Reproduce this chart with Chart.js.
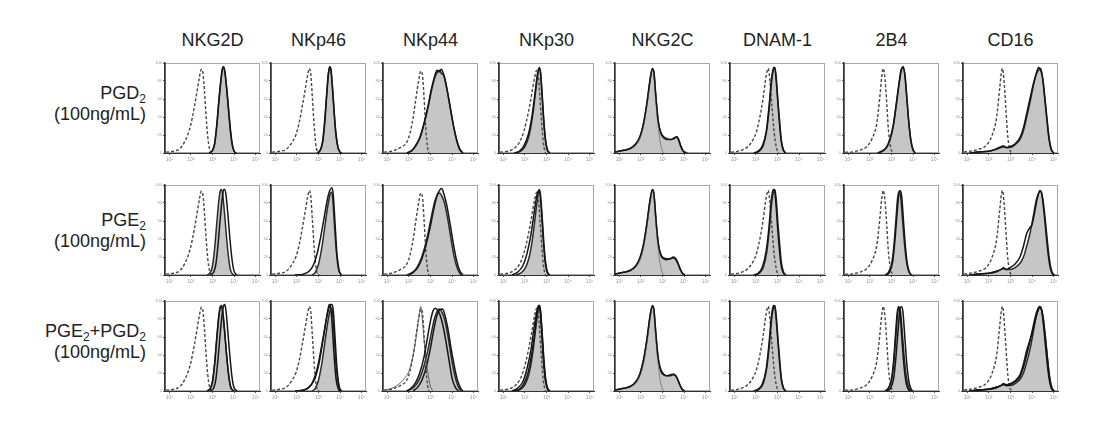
<!DOCTYPE html>
<html>
<head>
<meta charset="utf-8">
<script src="https://cdn.jsdelivr.net/npm/chart.js@4/dist/chart.umd.min.js"></script>
<style>
  html, body { margin: 0; padding: 0; background: #fff; }
  #fig { position: relative; width: 1107px; height: 435px; overflow: hidden;
         font-family: "Liberation Sans", Arial, sans-serif; color: #222; }
  .head { position: absolute; top: 31px; width: 130px; text-align: center;
          font-size: 18px; line-height: 18px; white-space: nowrap; }
  .rowlab { position: absolute; right: 961px; text-align: right; font-size: 18px;
            line-height: 21px; white-space: nowrap; }
  .rowlab sub { font-size: 12px; line-height: 0; vertical-align: -4px; }
  canvas { position: absolute; }
</style>
</head>
<body>
<div id="fig"></div>
<script>
// marker names (column headers) and treatment labels (rows)
var markers = ['NKG2D', 'NKp46', 'NKp44', 'NKp30', 'NKG2C', 'DNAM-1', '2B4', 'CD16'];
var treatments = ['PGD<sub>2</sub>', 'PGE<sub>2</sub>', 'PGE<sub>2</sub>+PGD<sub>2</sub>'];
var doseLabel = '(100ng/mL)';

// axis ticks: x is log10 of fluorescence, y is % of max
var xTickValues = [1, 2, 3, 4, 5];
var xTickLabels = ['10\u00b9', '10\u00b2', '10\u00b3', '10\u2074', '10\u2075'];
var yTickValues = [0, 20, 40, 60, 80, 100];

// isotype (dashed) per marker, same in every row
var isotypeCurves = [
  [[0.85,1],[1.2,2],[1.5,5],[1.7,12],[1.85,20],[2.0,32],[2.15,50],[2.28,68],[2.4,85],[2.48,93],[2.55,90],[2.63,68],[2.7,42],[2.78,18],[2.86,5],[2.95,0]],
  [[0.85,1],[1.2,2],[1.5,4],[1.75,11],[1.95,20],[2.1,33],[2.25,52],[2.38,70],[2.5,87],[2.58,94],[2.64,88],[2.72,60],[2.8,30],[2.88,9],[2.96,1],[3.05,0]],
  [[0.85,1],[1.2,2],[1.6,6],[1.9,12],[2.05,22],[2.2,40],[2.32,60],[2.45,80],[2.55,91],[2.62,88],[2.7,62],[2.78,28],[2.86,7],[2.93,0]],
  [[0.85,1],[1.2,2],[1.5,5],[1.75,12],[1.95,24],[2.15,44],[2.32,66],[2.45,84],[2.55,92],[2.62,86],[2.7,60],[2.78,32],[2.86,10],[2.95,0]],
  [[0.85,1],[1.2,3],[1.5,5],[1.75,9],[1.95,16],[2.12,30],[2.28,54],[2.42,80],[2.53,92],[2.6,88],[2.68,62],[2.78,34],[2.88,14],[2.97,4],[3.05,0]],
  [[0.85,1],[1.2,2],[1.57,6],[1.85,14],[2.04,25],[2.2,42],[2.34,62],[2.47,85],[2.57,94],[2.65,80],[2.75,50],[2.85,22],[2.95,6],[3.05,0]],
  [[0.85,1],[1.08,1],[1.5,3],[1.85,7],[2.1,16],[2.31,32],[2.45,60],[2.55,85],[2.62,94],[2.7,82],[2.78,55],[2.86,25],[2.96,6],[3.08,0]],
  [[0.85,1],[1.12,2],[1.5,4],[1.9,9],[2.15,20],[2.36,40],[2.5,72],[2.58,90],[2.63,94],[2.7,80],[2.78,52],[2.86,22],[2.95,5],[3.05,0]]
];

// row 1, PGD2: filled control and treated line
var pgd2Fill = [
  [[2.85,0],[3.0,3],[3.1,10],[3.2,30],[3.3,58],[3.4,82],[3.47,94],[3.52,96],[3.58,90],[3.66,72],[3.75,48],[3.84,24],[3.93,8],[4.03,1],[4.1,0]],
  [[2.95,0],[3.1,4],[3.2,13],[3.3,36],[3.38,64],[3.46,88],[3.52,96],[3.57,94],[3.64,76],[3.72,48],[3.8,24],[3.9,7],[4.0,1],[4.08,0]],
  [[1.9,0],[2.1,2],[2.3,7],[2.5,16],[2.7,32],[2.9,52],[3.05,70],[3.2,84],[3.32,90],[3.42,92],[3.52,88],[3.62,86],[3.75,72],[3.9,52],[4.05,32],[4.2,16],[4.35,5],[4.5,0]],
  [[1.6,0],[1.8,2],[2.0,7],[2.2,20],[2.35,40],[2.48,65],[2.58,85],[2.66,95],[2.72,90],[2.8,65],[2.88,35],[2.96,14],[3.05,3],[3.15,0]],
  [[0.8,1],[1.2,3],[1.5,5],[1.75,9],[1.95,17],[2.12,32],[2.28,55],[2.42,80],[2.53,93],[2.6,90],[2.7,60],[2.8,35],[2.92,22],[3.05,17],[3.2,15],[3.4,15],[3.55,16],[3.67,18],[3.75,15],[3.85,8],[3.95,3],[4.05,1],[4.15,0]],
  [[2.0,0],[2.2,3],[2.35,9],[2.5,25],[2.62,50],[2.73,80],[2.82,93],[2.88,95],[2.95,82],[3.02,58],[3.1,35],[3.18,14],[3.27,4],[3.38,0]],
  [[2.4,0],[2.6,2],[2.8,7],[2.95,16],[3.1,32],[3.24,56],[3.36,78],[3.46,92],[3.55,96],[3.63,85],[3.72,60],[3.8,35],[3.9,14],[4.0,4],[4.1,0]],
  [[1.1,0],[1.5,1],[2.0,2],[2.3,4],[2.55,7],[2.68,8],[2.8,6],[2.97,6],[3.2,9],[3.44,15],[3.6,25],[3.75,40],[3.9,56],[4.06,75],[4.2,88],[4.33,93],[4.4,94],[4.5,82],[4.6,60],[4.7,36],[4.8,15],[4.9,4],[5.0,0]]
];
var pgd2Line = [
  [[2.85,0],[3.0,3],[3.1,11],[3.2,32],[3.3,60],[3.4,84],[3.47,95],[3.52,95],[3.58,88],[3.66,70],[3.75,45],[3.84,22],[3.93,7],[4.03,1],[4.1,0]],
  [[2.93,0],[3.08,3],[3.19,13],[3.29,37],[3.38,66],[3.46,89],[3.52,95],[3.57,93],[3.64,74],[3.72,46],[3.8,22],[3.9,6],[4.0,1],[4.08,0]],
  [[1.9,0],[2.1,2],[2.3,8],[2.5,17],[2.7,33],[2.9,54],[3.05,72],[3.2,86],[3.3,92],[3.4,90],[3.5,93],[3.6,88],[3.75,73],[3.9,53],[4.05,32],[4.2,15],[4.35,4],[4.5,0]],
  [[1.5,0],[1.75,2],[1.95,8],[2.15,20],[2.32,40],[2.46,65],[2.57,86],[2.65,94],[2.71,92],[2.79,66],[2.87,36],[2.95,14],[3.04,3],[3.15,0]],
  [[0.8,1],[1.2,3],[1.5,5],[1.75,10],[1.95,18],[2.12,33],[2.28,56],[2.42,81],[2.53,94],[2.6,90],[2.7,61],[2.8,36],[2.92,23],[3.05,18],[3.2,16],[3.4,15],[3.55,17],[3.67,18],[3.75,14],[3.85,7],[3.95,2],[4.05,0]],
  [[1.9,0],[2.1,2],[2.3,8],[2.48,24],[2.6,50],[2.72,82],[2.82,95],[2.87,95],[2.94,80],[3.02,55],[3.1,30],[3.18,12],[3.27,3],[3.38,0]],
  [[2.35,0],[2.55,2],[2.75,6],[2.92,15],[3.08,31],[3.22,55],[3.35,78],[3.45,93],[3.54,95],[3.62,86],[3.71,60],[3.8,34],[3.9,13],[4.0,3],[4.1,0]],
  [[1.1,0],[1.5,1],[2.0,2],[2.3,4],[2.55,6],[2.68,7],[2.8,6],[2.97,7],[3.2,10],[3.44,17],[3.6,28],[3.75,44],[3.9,60],[4.06,77],[4.2,89],[4.3,95],[4.38,93],[4.48,84],[4.58,62],[4.68,38],[4.78,16],[4.88,4],[4.98,0]]
];

// row 2, PGE2
var pge2Fill = [
  [[2.75,0],[2.9,3],[3.0,10],[3.1,30],[3.2,58],[3.3,84],[3.37,94],[3.42,95],[3.48,88],[3.56,68],[3.65,42],[3.74,20],[3.83,6],[3.93,1],[4.0,0]],
  [[2.7,0],[2.85,3],[3.0,12],[3.15,30],[3.3,55],[3.42,75],[3.52,88],[3.6,92],[3.66,85],[3.74,55],[3.83,25],[3.93,6],[4.05,0]],
  [[1.9,0],[2.1,2],[2.3,6],[2.5,14],[2.7,28],[2.9,48],[3.05,66],[3.2,82],[3.32,89],[3.42,91],[3.52,88],[3.65,80],[3.8,62],[3.95,40],[4.1,20],[4.25,7],[4.4,0]],
  [[1.6,0],[1.8,2],[2.0,7],[2.2,20],[2.35,40],[2.48,65],[2.58,85],[2.66,95],[2.72,90],[2.8,65],[2.88,35],[2.96,14],[3.05,3],[3.15,0]],
  [[0.8,1],[1.2,3],[1.5,5],[1.75,9],[1.95,18],[2.12,33],[2.28,57],[2.42,82],[2.53,94],[2.6,90],[2.7,60],[2.8,35],[2.92,22],[3.05,18],[3.2,17],[3.35,18],[3.5,19],[3.62,17],[3.72,12],[3.82,6],[3.92,2],[4.02,0]],
  [[2.0,0],[2.2,3],[2.35,9],[2.5,25],[2.62,50],[2.73,80],[2.82,93],[2.88,95],[2.95,82],[3.02,58],[3.1,35],[3.18,14],[3.27,4],[3.38,0]],
  [[2.7,0],[2.85,3],[3.0,12],[3.1,30],[3.2,60],[3.28,85],[3.35,93],[3.42,88],[3.5,65],[3.6,35],[3.7,14],[3.8,4],[3.92,0]],
  [[1.1,0],[1.5,1],[2.0,2],[2.3,3],[2.55,6],[2.68,7],[2.8,6],[2.97,6],[3.2,8],[3.44,13],[3.6,20],[3.75,32],[3.9,46],[4.06,66],[4.2,84],[4.33,92],[4.4,93],[4.5,84],[4.6,64],[4.7,40],[4.8,18],[4.9,5],[5.0,0]]
];
var pge2Line = [
  [[2.9,0],[3.05,3],[3.15,11],[3.25,32],[3.35,60],[3.45,85],[3.52,95],[3.57,95],[3.63,88],[3.71,68],[3.8,42],[3.89,20],[3.98,6],[4.08,1],[4.15,0]],
  [[1.9,0],[2.3,1],[2.6,5],[2.8,13],[2.95,25],[3.1,42],[3.25,62],[3.38,80],[3.48,91],[3.55,95],[3.62,97],[3.68,90],[3.76,60],[3.85,25],[3.95,6],[4.05,0]],
  [[2.0,0],[2.2,3],[2.4,8],[2.6,18],[2.8,34],[3.0,55],[3.15,73],[3.3,88],[3.42,94],[3.52,96],[3.62,90],[3.75,78],[3.9,58],[4.05,36],[4.2,17],[4.35,5],[4.5,0]],
  [[1.4,0],[1.65,3],[1.9,10],[2.1,24],[2.28,45],[2.42,68],[2.55,88],[2.63,94],[2.7,90],[2.78,66],[2.86,36],[2.95,12],[3.05,2],[3.15,0]],
  [[0.8,1],[1.2,3],[1.5,5],[1.75,10],[1.95,19],[2.12,34],[2.28,58],[2.42,83],[2.53,95],[2.6,91],[2.7,61],[2.8,36],[2.92,23],[3.05,19],[3.2,18],[3.35,18],[3.5,20],[3.62,18],[3.72,13],[3.82,7],[3.92,2],[4.02,0]],
  [[1.9,0],[2.1,2],[2.3,9],[2.47,26],[2.6,52],[2.71,83],[2.8,95],[2.86,94],[2.93,78],[3.0,54],[3.08,30],[3.16,12],[3.25,3],[3.35,0]],
  [[2.75,0],[2.9,3],[3.05,14],[3.15,36],[3.25,66],[3.33,88],[3.4,94],[3.47,88],[3.55,62],[3.65,30],[3.75,10],[3.85,2],[3.95,0]],
  [[1.1,0],[1.5,1],[2.0,2],[2.3,4],[2.55,6],[2.68,8],[2.8,6],[2.97,8],[3.2,12],[3.44,20],[3.6,32],[3.75,46],[3.88,52],[4.0,56],[4.12,70],[4.25,86],[4.36,94],[4.45,90],[4.55,70],[4.65,45],[4.75,22],[4.85,7],[4.95,1],[5.05,0]]
];

// row 3, PGE2+PGD2: same control as row 2, main line and extra lines
var comboFill = pge2Fill;
var comboLine = [
  [[2.9,0],[3.05,3],[3.15,12],[3.25,34],[3.35,62],[3.45,86],[3.52,95],[3.57,96],[3.63,88],[3.71,66],[3.8,40],[3.89,18],[3.98,5],[4.08,1],[4.15,0]],
  [[1.9,0],[2.3,1],[2.6,5],[2.8,14],[2.95,26],[3.1,44],[3.25,64],[3.38,82],[3.48,92],[3.56,96],[3.63,96],[3.69,88],[3.77,58],[3.86,24],[3.96,5],[4.06,0]],
  [[1.9,0],[2.1,3],[2.3,9],[2.5,20],[2.7,38],[2.85,58],[3.0,78],[3.12,89],[3.22,92],[3.32,90],[3.45,84],[3.6,70],[3.75,50],[3.9,28],[4.0,14],[4.15,4],[4.3,0]],
  [[1.4,0],[1.65,3],[1.9,10],[2.1,25],[2.28,46],[2.42,70],[2.55,88],[2.63,95],[2.7,90],[2.78,64],[2.86,34],[2.95,12],[3.05,2],[3.15,0]],
  [[0.8,1],[1.2,3],[1.5,5],[1.75,10],[1.95,19],[2.12,35],[2.28,58],[2.42,83],[2.53,95],[2.6,91],[2.7,62],[2.8,37],[2.92,24],[3.05,19],[3.2,17],[3.35,17],[3.5,18],[3.6,17],[3.7,13],[3.8,7],[3.9,2],[4.0,0]],
  [[1.9,0],[2.1,2],[2.3,8],[2.48,25],[2.6,51],[2.72,83],[2.81,95],[2.87,94],[2.94,79],[3.02,55],[3.1,31],[3.18,12],[3.27,3],[3.38,0]],
  [[2.7,0],[2.85,3],[3.0,13],[3.1,34],[3.19,64],[3.26,86],[3.32,94],[3.39,88],[3.47,62],[3.57,30],[3.67,10],[3.77,2],[3.88,0]],
  [[1.1,0],[1.5,1],[2.0,2],[2.3,4],[2.55,6],[2.68,8],[2.8,7],[2.97,8],[3.2,11],[3.44,18],[3.6,30],[3.75,45],[3.88,55],[4.0,64],[4.12,76],[4.25,88],[4.35,94],[4.44,90],[4.54,70],[4.64,45],[4.74,22],[4.84,7],[4.94,1],[5.04,0]]
];
var comboExtra = [
  [[[2.75,0],[2.9,3],[3.0,11],[3.1,31],[3.2,60],[3.3,85],[3.37,94],[3.42,94],[3.48,86],[3.56,66],[3.65,40],[3.74,19],[3.83,5],[3.93,1],[4.0,0]]],
  [[[2.0,0],[2.5,3],[2.8,12],[3.0,28],[3.15,48],[3.3,70],[3.42,88],[3.5,96],[3.56,94],[3.63,75],[3.72,40],[3.82,12],[3.92,2],[4.02,0]]],
  [[[0.85,1],[1.2,3],[1.5,7],[1.8,14],[2.0,22],[2.2,40],[2.35,62],[2.48,85],[2.55,94],[2.62,80],[2.72,52],[2.82,30],[2.92,14],[3.0,5],[3.1,0]],
   [[2.2,0],[2.4,4],[2.6,12],[2.8,26],[3.0,48],[3.15,68],[3.3,84],[3.42,90],[3.55,91],[3.65,86],[3.8,70],[3.95,48],[4.1,28],[4.25,12],[4.4,3],[4.5,0]]],
  [[[1.5,0],[1.75,2],[1.95,8],[2.15,21],[2.32,42],[2.46,66],[2.57,87],[2.65,95],[2.71,91],[2.79,65],[2.87,35],[2.95,13],[3.04,3],[3.15,0]]],
  [],
  [],
  [[[2.8,0],[2.95,3],[3.1,14],[3.2,36],[3.3,66],[3.38,88],[3.46,94],[3.53,88],[3.61,62],[3.71,30],[3.81,10],[3.91,2],[4.0,0]]],
  [[[1.1,0],[1.5,1],[2.0,2],[2.3,4],[2.55,6],[2.68,8],[2.8,6],[2.97,7],[3.2,10],[3.44,16],[3.6,26],[3.75,40],[3.9,55],[4.06,73],[4.2,87],[4.32,93],[4.4,92],[4.5,82],[4.6,62],[4.7,38],[4.8,16],[4.9,4],[5.0,0]]]
];

// layout of the panels (pixels)
var boxLeft = [165, 271, 383, 499, 615, 730, 844, 963];
var boxTop = [63, 185, 301];
var boxW = 95, boxH = 90;
var padL = 18, padR = 6, padT = 4, padB = 16;
var labelTop = [83, 210, 321];

var fig = document.getElementById('fig');

markers.forEach(function (name, c) {
  var h = document.createElement('div');
  h.className = 'head';
  h.style.left = (boxLeft[c] + boxW / 2 - 65) + 'px';
  h.textContent = name;
  fig.appendChild(h);
});

treatments.forEach(function (t, r) {
  var d = document.createElement('div');
  d.className = 'rowlab';
  d.style.top = labelTop[r] + 'px';
  d.innerHTML = t + '<br>' + doseLabel;
  fig.appendChild(d);
});

var boxOutline = {
  id: 'boxOutline',
  beforeDraw: function (chart) {
    var a = chart.chartArea;
    var ctx = chart.ctx;
    ctx.save();
    ctx.strokeStyle = '#a8a8a8';
    ctx.lineWidth = 1;
    ctx.strokeRect(a.left + 0.5, a.top + 0.5, a.right - a.left - 1, a.bottom - a.top - 1);
    ctx.restore();
  }
};

function lineSet(points, opts) {
  var ds = {
    data: points,
    borderColor: '#151515',
    borderWidth: 1.5,
    pointRadius: 0,
    fill: false,
    cubicInterpolationMode: 'monotone',
    order: 1
  };
  for (var k in opts) ds[k] = opts[k];
  return ds;
}

function makePanel(r, c, fillCurve, mainLine, extras) {
  var cv = document.createElement('canvas');
  var w = boxW + padL + padR, hgt = boxH + padT + padB;
  cv.width = w;
  cv.height = hgt;
  cv.style.left = (boxLeft[c] - padL) + 'px';
  cv.style.top = (boxTop[r] - padT) + 'px';
  cv.style.width = w + 'px';
  cv.style.height = hgt + 'px';
  fig.appendChild(cv);

  var isoSolid = markers[c] === 'NKG2C';
  var datasets = [
    lineSet(fillCurve, { fill: 'origin', backgroundColor: '#c6c6c6', borderColor: '#2a2a2a', borderWidth: 1.5, order: 10 }),
    lineSet(isotypeCurves[c], isoSolid
      ? { borderColor: '#8a8a8a', borderWidth: 1.1, order: 5 }
      : { borderColor: '#474747', borderWidth: 1.4, borderDash: [3, 2], order: 5 }),
    lineSet(mainLine, {})
  ];
  (extras || []).forEach(function (e, i) {
    var thin = markers[c] === 'NKp44' && i === 0;
    datasets.push(lineSet(e, thin ? { borderColor: '#555', borderWidth: 0.9, order: 2 } : { order: 2 }));
  });

  new Chart(cv, {
    type: 'line',
    data: { datasets: datasets },
    plugins: [boxOutline],
    options: {
      responsive: false,
      animation: false,
      devicePixelRatio: 1,
      layout: { autoPadding: false, padding: { left: 0, right: padR, top: padT, bottom: 0 } },
      plugins: { legend: { display: false }, tooltip: { enabled: false } },
      scales: {
        x: {
          type: 'linear',
          min: 0.8,
          max: 5.2,
          afterBuildTicks: function (s) {
            s.ticks = xTickValues.map(function (v) { return { value: v }; });
          },
          afterFit: function (s) { s.height = padB; },
          ticks: {
            font: { size: 5, family: 'Liberation Sans' },
            color: '#9a9a9a',
            padding: 2,
            maxRotation: 0,
            callback: function (v) {
              var i = xTickValues.indexOf(v);
              return i >= 0 ? xTickLabels[i] : '';
            }
          },
          grid: { drawOnChartArea: false, tickLength: 2, color: '#555' },
          border: { color: '#333', width: 1 }
        },
        y: {
          min: 0,
          max: 100,
          afterBuildTicks: function (s) {
            s.ticks = yTickValues.map(function (v) { return { value: v }; });
          },
          afterFit: function (s) { s.width = padL; },
          ticks: { font: { size: 4, family: 'Liberation Sans' }, color: '#9a9a9a', padding: 1 },
          grid: { drawOnChartArea: false, tickLength: 2, color: '#555' },
          border: isoSolid ? { color: '#333', width: 1.5 } : { color: '#333', width: 1.6, dash: [3, 2] }
        }
      }
    }
  });
}

markers.forEach(function (name, c) {
  makePanel(0, c, pgd2Fill[c], pgd2Line[c], []);
  makePanel(1, c, pge2Fill[c], pge2Line[c], []);
  makePanel(2, c, comboFill[c], comboLine[c], comboExtra[c]);
});
</script>
</body>
</html>
